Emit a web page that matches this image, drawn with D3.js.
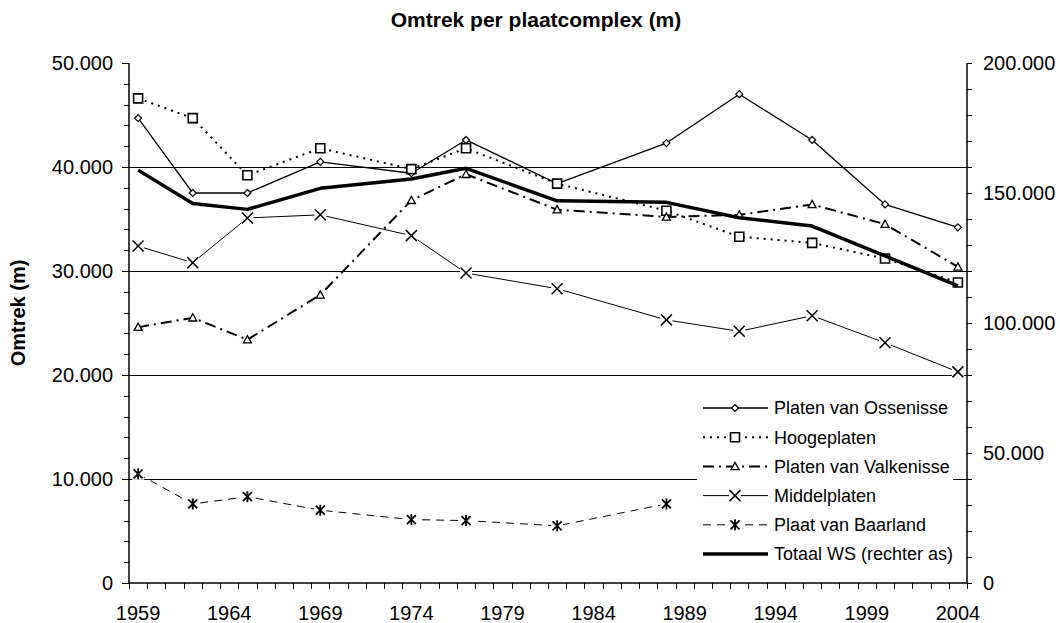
<!DOCTYPE html>
<html>
<head>
<meta charset="utf-8">
<script src="https://cdn.jsdelivr.net/npm/d3@7"></script>
<style>
  body { margin: 0; background: #fff; }
  text { font-family: "Liberation Sans", Arial, sans-serif; fill: #000; }
</style>
</head>
<body>
<div class="canvas"></div>
<script>
// data
const years = [1959, 1962, 1965, 1969, 1974, 1977, 1982, 1988, 1992, 1996, 2000, 2004]
const ossenisse = [44700, 37500, 37500, 40500, 39400, 42600, 38400, 42300, 47000, 42600, 36400, 34200]
const hoogeplaten = [46600, 44700, 39200, 41800, 39800, 41800, 38400, 35800, 33300, 32700, 31200, 28900]
const valkenisse = [24600, 25500, 23400, 27700, 36800, 39300, 35900, 35200, 35400, 36400, 34500, 30400]
const middelplaten = [32400, 30800, 35100, 35400, 33400, 29800, 28300, 25300, 24200, 25700, 23100, 20300]
const baarland = [10500, 7600, 8300, 7000, 6100, 6000, 5500, 7600]
const totaal = [158800, 146000, 143700, 151800, 155400, 159500, 147000, 146400, 140500, 137300, 125800, 114300]
const xLabels = [1959, 1964, 1969, 1974, 1979, 1984, 1989, 1994, 1999, 2004]

const dims = {width: 1060, height: 623}
const plot = {left: 129, right: 967, top: 63, bottom: 583}

const nl = d3.formatLocale({decimal: ',', thousands: '.', grouping: [3], currency: ['', '']})
const fmt = nl.format(',')

const svg = d3.select('.canvas')
    .append('svg')
    .attr('width', dims.width)
    .attr('height', dims.height)

const x = d3.scaleLinear().domain([1958.5, 2004.5]).range([plot.left, plot.right])
const yL = d3.scaleLinear().domain([0, 50000]).range([plot.bottom, plot.top])
const yR = d3.scaleLinear().domain([0, 200000]).range([plot.bottom, plot.top])

// gridlines
svg.append('g')
    .selectAll('line')
    .data([10000, 20000, 30000, 40000])
    .enter().append('line')
    .attr('x1', plot.left).attr('x2', plot.right)
    .attr('y1', d => yL(d)).attr('y2', d => yL(d))
    .attr('stroke', '#000')
    .attr('stroke-width', 1)
    .attr('shape-rendering', 'crispEdges')

// left axis
const leftAxis = svg.append('g').attr('transform', `translate(${plot.left},0)`)
leftAxis.call(d3.axisLeft(yL).tickValues(d3.range(0, 50001, 2000)).tickSize(5).tickFormat(''))
leftAxis.call(g => g.selectAll('.domain').remove())
leftAxis.append('line').attr('y1', plot.top).attr('y2', plot.bottom).attr('stroke', '#000').attr('stroke-width', 1.5)
leftAxis.selectAll('.tick line').attr('stroke-width', 1).attr('shape-rendering', 'crispEdges')
leftAxis.selectAll('.major')
    .data(d3.range(0, 50001, 10000))
    .enter().append('g')
    .attr('transform', d => `translate(0,${yL(d)})`)
    .call(g => g.append('line').attr('x1', -7).attr('x2', 0).attr('stroke', '#000').attr('shape-rendering', 'crispEdges'))
    .call(g => g.append('text').attr('x', -16).attr('dy', '0.36em')
        .attr('text-anchor', 'end').style('font-size', '20px').text(d => fmt(d)))

// right axis
const rightAxis = svg.append('g').attr('transform', `translate(${plot.right},0)`)
rightAxis.call(d3.axisRight(yR).tickValues(d3.range(0, 200001, 10000)).tickSize(5).tickFormat(''))
rightAxis.call(g => g.selectAll('.domain').remove())
rightAxis.append('line').attr('y1', plot.top).attr('y2', plot.bottom).attr('stroke', '#000').attr('stroke-width', 1.5)
rightAxis.selectAll('.tick line').attr('shape-rendering', 'crispEdges')
rightAxis.selectAll('.lbl')
    .data(d3.range(0, 200001, 50000))
    .enter().append('text')
    .attr('x', 16)
    .attr('y', d => yR(d))
    .attr('dy', '0.36em')
    .style('font-size', '20px')
    .text(d => fmt(d))

// x axis
const xAxis = svg.append('g').attr('transform', `translate(0,${plot.bottom})`)
xAxis.call(d3.axisBottom(x).tickValues(d3.range(1958.5, 2004.6, 1)).tickSize(6).tickFormat(''))
xAxis.call(g => g.select('.domain').remove())
xAxis.append('line').attr('x1', plot.left).attr('x2', plot.right).attr('stroke', '#000').attr('stroke-width', 1.5)
xAxis.selectAll('.tick line').attr('shape-rendering', 'crispEdges')
xAxis.selectAll('.lbl')
    .data(xLabels)
    .enter().append('text')
    .attr('x', d => x(d))
    .attr('y', 37)
    .attr('text-anchor', 'middle')
    .style('font-size', '20px')
    .text(d => d)

// titles
svg.append('text')
    .attr('x', 536).attr('y', 27)
    .attr('text-anchor', 'middle')
    .style('font-size', '21px').style('font-weight', 'bold')
    .text('Omtrek per plaatcomplex (m)')

svg.append('text')
    .attr('transform', 'translate(25,313) rotate(-90)')
    .attr('text-anchor', 'middle')
    .style('font-size', '20px').style('font-weight', 'bold')
    .text('Omtrek (m)')

// markers
const markerPath = {
    diamond: 'M0,-3.5L3.5,0L0,3.5L-3.5,0Z',
    square: 'M-4.5,-4.5H4.5V4.5H-4.5Z',
    triangle: 'M0,-4L4,3.2H-4Z',
    cross: 'M-5.5,-5.5L5.5,5.5M5.5,-5.5L-5.5,5.5',
    star: 'M-4.5,-4.5L4.5,4.5M4.5,-4.5L-4.5,4.5M0,-5.5V5.5'
}

const series = [
    {name: 'Platen van Ossenisse', values: ossenisse, width: 1.3, dash: null, marker: 'diamond', mw: 1.2, axis: yL},
    {name: 'Hoogeplaten', values: hoogeplaten, width: 2, dash: '2,5', marker: 'square', mw: 1.6, axis: yL},
    {name: 'Platen van Valkenisse', values: valkenisse, width: 2, dash: '11,5,2,5', marker: 'triangle', mw: 1.3, axis: yL},
    {name: 'Middelplaten', values: middelplaten, width: 1, dash: null, marker: 'cross', mw: 1.5, axis: yL},
    {name: 'Plaat van Baarland', values: baarland, width: 1, dash: '8,6', marker: 'star', mw: 1.8, axis: yL},
    {name: 'Totaal WS (rechter as)', values: totaal, width: 3.5, dash: null, marker: null, axis: yR}
]

const drawMarker = (g, s) => {
    if (!s.marker) return
    if (s.marker == 'cross' || s.marker == 'star') {
        g.append('rect').attr('x', -6).attr('y', -6).attr('width', 12).attr('height', 12).attr('fill', '#fff')
    }
    g.append('path')
        .attr('d', markerPath[s.marker])
        .attr('fill', (s.marker == 'cross' || s.marker == 'star') ? 'none' : '#fff')
        .attr('stroke', '#000')
        .attr('stroke-width', s.mw)
}

series.forEach(s => {
    const pts = s.values.map((v, i) => [years[i], v])
    const line = d3.line().x(d => x(d[0])).y(d => s.axis(d[1]))
    svg.append('path')
        .datum(pts)
        .attr('d', line)
        .attr('fill', 'none')
        .attr('stroke', '#000')
        .attr('stroke-width', s.width)
        .attr('stroke-dasharray', s.dash)
        .attr('stroke-linejoin', 'round')
    svg.append('g')
        .selectAll('g')
        .data(pts)
        .enter().append('g')
        .attr('transform', d => `translate(${x(d[0])},${s.axis(d[1])})`)
        .each(function() { drawMarker(d3.select(this), s) })
})

// legend
const legend = svg.append('g')
legend.append('rect')
    .attr('x', 697).attr('y', 392).attr('width', 256).attr('height', 178)
    .attr('fill', '#fff')
const rows = legend.selectAll('.row')
    .data(series)
    .enter().append('g')
    .attr('transform', (d, i) => `translate(703,${408 + i * 29.2})`)
rows.append('line')
    .attr('x1', 0).attr('x2', 65)
    .attr('stroke', '#000')
    .attr('stroke-width', d => d.width)
    .attr('stroke-dasharray', d => d.dash)
rows.append('g')
    .attr('transform', 'translate(32,0)')
    .each(function(d) { drawMarker(d3.select(this), d) })
rows.append('text')
    .attr('x', 71)
    .attr('dy', '0.36em')
    .style('font-size', '18px')
    .text(d => d.name)
</script>
</body>
</html>
